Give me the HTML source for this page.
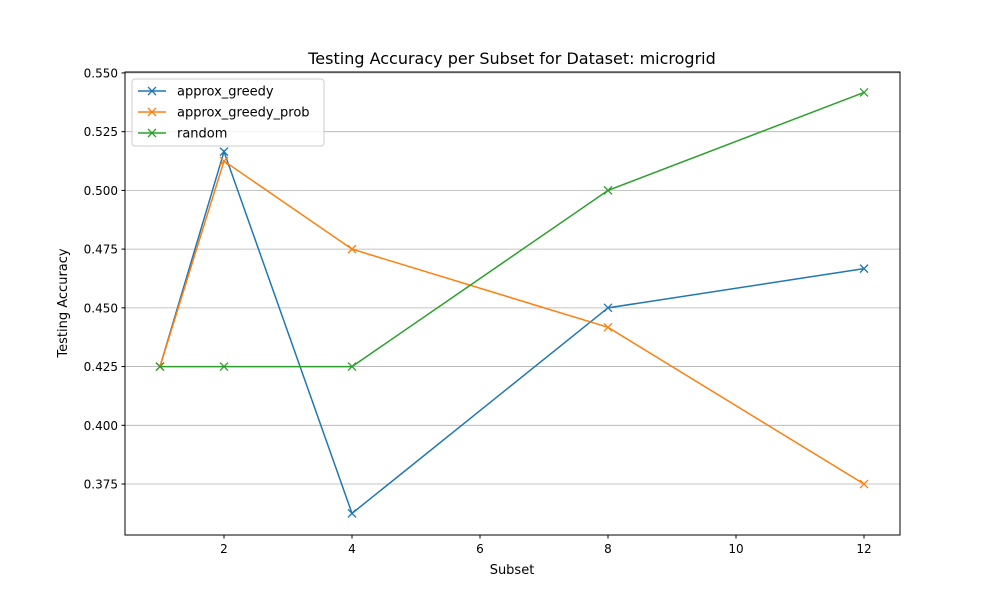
<!DOCTYPE html>
<html><head><meta charset="utf-8"><style>
body{margin:0;background:#fff;font-family:"Liberation Sans","DejaVu Sans",sans-serif;}
svg text{font-family:"DejaVu Sans","Liberation Sans",sans-serif;}
</style></head><body>
<svg id="chart" width="1000" height="600" xmlns="http://www.w3.org/2000/svg">
<rect width="1000" height="600" fill="#fff"/>
<g id="grid"></g>
<g id="series"></g>
<rect x="125" y="72" width="775" height="463" fill="none" stroke="#000" stroke-width="1"/>
<g id="axes"></g>
<text x="512" y="64" text-anchor="middle" font-size="16">Testing Accuracy per Subset for Dataset: microgrid</text>
<text x="512" y="574" text-anchor="middle" font-size="13">Subset</text>
<text x="67" y="303" text-anchor="middle" font-size="13" transform="rotate(-90 67 303)">Testing Accuracy</text>
<g id="legend"></g>
</svg>
<script>
const subsets=[1,2,4,8,12];
const seriesNames=["approx_greedy","approx_greedy_prob","random"];
const greedyVals=[0.425,0.5165,0.3625,0.45,0.4667];
const probVals=[0.425,0.5125,0.475,0.4417,0.375];
const randomVals=[0.425,0.425,0.425,0.5,0.5417];
const xTicks=[2,4,6,8,10,12];
const yTicks=[0.375,0.400,0.425,0.450,0.475,0.500,0.525,0.550];
const colors=["#1f77b4","#ff7f0e","#2ca02c"];
const NS="http://www.w3.org/2000/svg";
const L=125,R=900,T=72,B=535;
const xMin=0.453,xMax=12.5625,yMin=0.3533,yMax=0.5504;
const xs=v=>L+(v-xMin)/(xMax-xMin)*(R-L);
const ys=v=>B-(v-yMin)/(yMax-yMin)*(B-T);
function mk(tag,attrs,parent){const e=document.createElementNS(NS,tag);for(const k in attrs)e.setAttribute(k,attrs[k]);parent.appendChild(e);return e;}
const grid=document.getElementById('grid'),axes=document.getElementById('axes');
yTicks.forEach(t=>{const y=ys(t);
 const g=mk('line',{x1:L,x2:R,y1:y,y2:y,stroke:'#b0b0b0','stroke-width':0.8},grid);
 
 
 mk('line',{x1:L-3.5,x2:L,y1:y,y2:y,stroke:'#000'},axes);
 const tx=mk('text',{x:L-7,y:y+4.5,'text-anchor':'end','font-size':12},axes);tx.textContent=t.toFixed(3);
 
 
});
xTicks.forEach(t=>{const x=xs(t);
 mk('line',{x1:x,x2:x,y1:B,y2:B+3.5,stroke:'#000'},axes);
 const tx=mk('text',{x:x,y:B+18,'text-anchor':'middle','font-size':12},axes);tx.textContent=t;
 
 
});
const ser=document.getElementById('series');
[greedyVals,probVals,randomVals].forEach((vals,i)=>{
 const g=mk('g',{},ser);
 
 
 const pts=vals.map((v,j)=>xs(subsets[j])+','+ys(v)).join(' ');
 mk('polyline',{points:pts,fill:'none',stroke:colors[i],'stroke-width':1.5},g);
 vals.forEach((v,j)=>{const x=xs(subsets[j]),y=ys(v);
  const m=mk('path',{d:`M${x-4},${y-4}L${x+4},${y+4}M${x-4},${y+4}L${x+4},${y-4}`,stroke:colors[i],'stroke-width':1.3},g);
  
  
 });
});
const lg=document.getElementById('legend');
const box=mk('rect',{x:132,y:79,width:192,height:67,rx:3,fill:'#fff','fill-opacity':0.8,stroke:'#ccc'},lg);


seriesNames.forEach((n,i)=>{const y=91+i*21;
 mk('line',{x1:138,x2:166,y1:y,y2:y,stroke:colors[i],'stroke-width':1.5},lg);
 mk('path',{d:`M148,${y-4}L156,${y+4}M148,${y+4}L156,${y-4}`,stroke:colors[i],'stroke-width':1.3},lg);
 const t=mk('text',{x:177,y:y+4.5,'font-size':13},lg);t.textContent=n;
 
 
});
</script>
</body></html>
